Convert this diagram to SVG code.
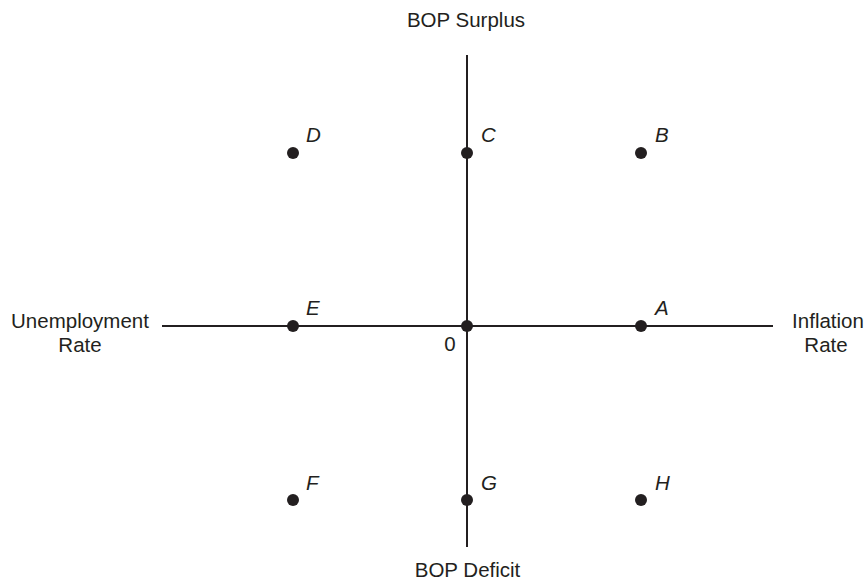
<svg xmlns="http://www.w3.org/2000/svg" width="865" height="582" viewBox="0 0 865 582">
<style>
.ax{stroke:#231f20;stroke-width:2;fill:none}
.dot{fill:#231f20}
.t{font-family:"Liberation Sans",Arial,sans-serif;font-size:20.5px;fill:#231f20;text-anchor:middle}
.l{font-family:"Liberation Sans",Arial,sans-serif;font-size:20.5px;font-style:italic;fill:#231f20}
</style>
<rect width="865" height="582" fill="#fff"/>
<g id="connectors">
<line class="ax" x1="467" y1="55" x2="467" y2="547"/>
<line class="ax" x1="162" y1="326" x2="773" y2="326"/>
</g>
<g id="axis-labels">
<text class="t" x="466" y="27">BOP Surplus</text>
<text class="t" x="467.5" y="577">BOP Deficit</text>
<text class="t" x="80" y="328">Unemployment</text>
<text class="t" x="80" y="352">Rate</text>
<text class="t" x="828" y="328">Inflation</text>
<text class="t" x="826" y="352">Rate</text>
</g>
<g id="origin"><circle class="dot" cx="467" cy="326" r="6"/><text class="t" x="450" y="351">0</text></g>
<g id="A"><circle class="dot" cx="641" cy="326" r="6"/><text class="l" x="655" y="315">A</text></g>
<g id="B"><circle class="dot" cx="641" cy="153" r="6"/><text class="l" x="655" y="142">B</text></g>
<g id="C"><circle class="dot" cx="467" cy="153" r="6"/><text class="l" x="481" y="142">C</text></g>
<g id="D"><circle class="dot" cx="293" cy="153" r="6"/><text class="l" x="306" y="142">D</text></g>
<g id="E"><circle class="dot" cx="293" cy="326" r="6"/><text class="l" x="306" y="315">E</text></g>
<g id="F"><circle class="dot" cx="293" cy="500" r="6"/><text class="l" x="306" y="490">F</text></g>
<g id="G"><circle class="dot" cx="467" cy="500" r="6"/><text class="l" x="481" y="490">G</text></g>
<g id="H"><circle class="dot" cx="641" cy="500" r="6"/><text class="l" x="655" y="490">H</text></g>
</svg>
